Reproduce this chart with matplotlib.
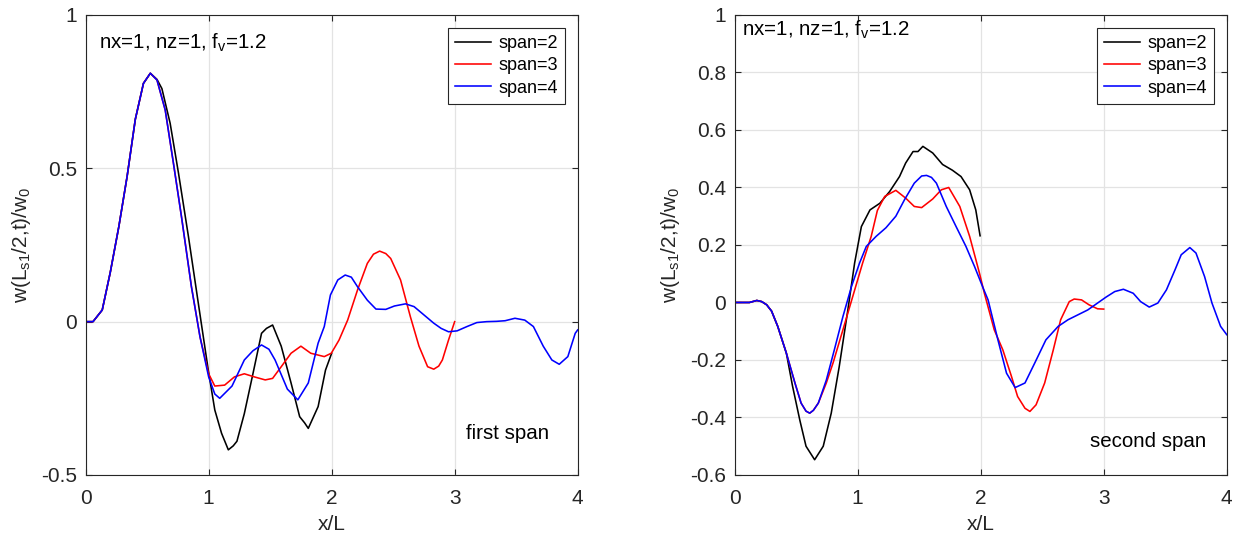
import matplotlib
matplotlib.use('Agg')
from matplotlib import pyplot as plt

plt.rcParams['font.family'] = ['Liberation Sans', 'DejaVu Sans']
plt.rcParams['mathtext.default'] = 'regular'

# ---- first span (left panel) ----
x1_s2 = [0, 0.06, 0.135, 0.20, 0.27, 0.337, 0.404, 0.47, 0.526, 0.58, 0.62, 0.687, 0.755, 0.836, 0.916,
         0.997, 1.05, 1.105, 1.16, 1.20, 1.23, 1.29, 1.36, 1.43, 1.47, 1.52, 1.59, 1.67, 1.74, 1.78,
         1.81, 1.89, 1.95, 2.0]
y1_s2 = [0, 0, 0.038, 0.16, 0.31, 0.473, 0.66, 0.777, 0.81, 0.79, 0.76, 0.647, 0.484, 0.277, 0.06,
         -0.158, -0.288, -0.364, -0.418, -0.405, -0.39, -0.30, -0.17, -0.038, -0.022, -0.011, -0.08, -0.20, -0.31, -0.33,
         -0.348, -0.277, -0.158, -0.103]

x1_s3 = [0, 0.06, 0.135, 0.20, 0.27, 0.337, 0.404, 0.47, 0.526, 0.58, 0.647, 0.714, 0.78, 0.86, 0.93,
         1.0, 1.05, 1.13, 1.21, 1.29, 1.37, 1.46, 1.52, 1.59, 1.67, 1.75, 1.83, 1.94, 1.997, 2.06,
         2.13, 2.21, 2.29, 2.34, 2.39, 2.44, 2.48, 2.56, 2.64, 2.71, 2.78, 2.83, 2.87, 2.90, 2.95, 3.0]
y1_s3 = [0, 0, 0.038, 0.16, 0.31, 0.473, 0.66, 0.777, 0.81, 0.788, 0.69, 0.516, 0.34, 0.114, -0.05,
         -0.17, -0.21, -0.207, -0.18, -0.17, -0.18, -0.19, -0.185, -0.147, -0.103, -0.08, -0.103, -0.114, -0.103, -0.06,
         0.005, 0.103, 0.19, 0.22, 0.23, 0.222, 0.206, 0.136, 0.016, -0.08, -0.147, -0.155, -0.145, -0.125, -0.06, 0.0]

x1_s4 = [0, 0.06, 0.135, 0.20, 0.27, 0.337, 0.404, 0.47, 0.526, 0.58, 0.647, 0.714, 0.78, 0.86, 0.93,
         1.0, 1.05, 1.09, 1.19, 1.29, 1.36, 1.43, 1.49, 1.54, 1.64, 1.725, 1.81, 1.89, 1.94, 1.99,
         2.05, 2.11, 2.16, 2.21, 2.29, 2.36, 2.44, 2.51, 2.60, 2.67, 2.75, 2.83, 2.89, 2.95, 3.02,
         3.10, 3.18, 3.26, 3.34, 3.41, 3.49, 3.57, 3.64, 3.72, 3.79, 3.85, 3.92, 3.98, 4.0]
y1_s4 = [0, 0, 0.038, 0.16, 0.31, 0.473, 0.66, 0.777, 0.81, 0.788, 0.69, 0.516, 0.34, 0.114, -0.05,
         -0.18, -0.236, -0.25, -0.21, -0.125, -0.095, -0.076, -0.09, -0.125, -0.22, -0.255, -0.20, -0.07, -0.016, 0.087,
         0.136, 0.152, 0.145, 0.114, 0.07, 0.041, 0.04, 0.051, 0.058, 0.049, 0.022, -0.005, -0.022, -0.033, -0.03,
         -0.016, -0.003, 0.0, 0.001, 0.003, 0.011, 0.005, -0.016, -0.08, -0.125, -0.139, -0.114, -0.038, -0.027]

# ---- second span (right panel) ----
x2_s2 = [0, 0.12, 0.18, 0.22, 0.26, 0.30, 0.35, 0.42, 0.47, 0.53, 0.58, 0.65, 0.72, 0.785, 0.85,
         0.92, 0.975, 1.03, 1.10, 1.18, 1.26, 1.34, 1.39, 1.45, 1.49, 1.53, 1.61, 1.69, 1.77, 1.84,
         1.91, 1.96, 1.995]
y2_s2 = [0, 0, 0.007, 0.003, -0.008, -0.03, -0.083, -0.176, -0.29, -0.41, -0.50, -0.547, -0.50, -0.385, -0.223,
         -0.026, 0.137, 0.264, 0.322, 0.345, 0.386, 0.438, 0.485, 0.525, 0.525, 0.543, 0.52, 0.48, 0.46, 0.438,
         0.392, 0.322, 0.232]

x2_s3 = [0, 0.12, 0.18, 0.22, 0.26, 0.30, 0.35, 0.42, 0.49, 0.54, 0.58, 0.61, 0.64, 0.68, 0.745,
         0.80, 0.88, 0.96, 1.04, 1.11, 1.16, 1.22, 1.31, 1.39, 1.46, 1.52, 1.61, 1.68, 1.74, 1.83,
         1.91, 1.99, 2.03, 2.11, 2.18, 2.25, 2.30, 2.36, 2.40, 2.45, 2.52, 2.59, 2.65, 2.72, 2.76,
         2.82, 2.88, 2.95, 3.0]
y2_s3 = [0, 0, 0.007, 0.003, -0.008, -0.03, -0.083, -0.176, -0.28, -0.35, -0.378, -0.385, -0.375, -0.35, -0.28,
         -0.21, -0.095, 0.021, 0.137, 0.23, 0.32, 0.369, 0.39, 0.363, 0.334, 0.33, 0.36, 0.392, 0.40, 0.334,
         0.23, 0.102, 0.032, -0.095, -0.165, -0.257, -0.327, -0.368, -0.379, -0.356, -0.28, -0.165, -0.06, 0.003, 0.012,
         0.009, -0.008, -0.022, -0.023]

x2_s4 = [0, 0.12, 0.18, 0.22, 0.26, 0.30, 0.35, 0.42, 0.49, 0.54, 0.58, 0.61, 0.64, 0.68, 0.745,
         0.81, 0.88, 0.95, 1.015, 1.07, 1.15, 1.23, 1.31, 1.38, 1.46, 1.52, 1.56, 1.60, 1.64, 1.72,
         1.80, 1.88, 1.95, 2.02, 2.06, 2.14, 2.21, 2.28, 2.36, 2.44, 2.53, 2.63, 2.71, 2.79, 2.87,
         2.95, 3.02, 3.09, 3.16, 3.24, 3.30, 3.37, 3.44, 3.51, 3.58, 3.63, 3.70, 3.75, 3.82, 3.88,
         3.95, 4.0]
y2_s4 = [0, 0, 0.007, 0.003, -0.008, -0.03, -0.083, -0.176, -0.28, -0.35, -0.378, -0.385, -0.375, -0.35, -0.27,
         -0.165, -0.049, 0.056, 0.137, 0.195, 0.23, 0.26, 0.30, 0.357, 0.415, 0.44, 0.442, 0.435, 0.415, 0.334,
         0.264, 0.195, 0.125, 0.05, 0.009, -0.13, -0.246, -0.296, -0.28, -0.21, -0.13, -0.083, -0.06, -0.043, -0.026,
         -0.002, 0.019, 0.038, 0.046, 0.032, 0.003, -0.016, -0.002, 0.044, 0.114, 0.166, 0.191, 0.172, 0.09, -0.002,
         -0.083, -0.112]

labels = ['span=2', 'span=3', 'span=4']
colors = ['k', '#ff0000', '#0000ff']
xticks = [0, 1, 2, 3, 4]
yticks1 = [-0.5, 0, 0.5, 1]
yticklabels1 = ['-0.5', '0', '0.5', '1']
yticks2 = [-0.6, -0.4, -0.2, 0, 0.2, 0.4, 0.6, 0.8, 1]
yticklabels2 = ['-0.6', '-0.4', '-0.2', '0', '0.2', '0.4', '0.6', '0.8', '1']

fig = plt.figure(figsize=(12.41, 5.37), dpi=100)
ax1 = fig.add_axes([0.069, 0.1155, 0.3965, 0.8566])
ax2 = fig.add_axes([0.592, 0.1155, 0.3965, 0.8566])

panels = [
    (ax1, [(x1_s2, y1_s2), (x1_s3, y1_s3), (x1_s4, y1_s4)], (-0.5, 1), yticks1, yticklabels1,
     'first span', (0.858, 0.091), (0.027, 0.94)),
    (ax2, [(x2_s2, y2_s2), (x2_s3, y2_s3), (x2_s4, y2_s4)], (-0.6, 1), yticks2, yticklabels2,
     'second span', (0.84, 0.072), (0.015, 0.967)),
]

for ax, series, ylim, yt, ytl, tag, tagpos, infopos in panels:
    for (xs, ys), c, lab in zip(series, colors, labels):
        ax.plot(xs, ys, color=c, lw=1.15, label=lab)
    ax.set_xlim(0, 4)
    ax.set_ylim(*ylim)
    ax.set_xticks(xticks)
    ax.set_xticklabels([str(t) for t in xticks])
    ax.set_yticks(yt)
    ax.set_yticklabels(ytl)
    ax.grid(True, color='#e3e3e3', lw=0.9)
    ax.set_axisbelow(True)
    ax.tick_params(direction='in', length=4, width=0.8, colors='#262626', labelsize=15,
                   top=True, right=True)
    ax.tick_params(axis='x', pad=10)
    ax.tick_params(axis='y', pad=6)
    for sp in ax.spines.values():
        sp.set_color('#262626')
        sp.set_linewidth(0.8)
    ax.set_xlabel('x/L', fontsize=15, color='#262626', labelpad=5)
    ax.set_ylabel('w(L$_{s1}$/2,t)/w$_0$', fontsize=15, color='#262626', labelpad=6)
    ax.text(infopos[0], infopos[1], 'nx=1, nz=1, f$_v$=1.2', transform=ax.transAxes,
            fontsize=14.8, va='center', ha='left')
    ax.text(tagpos[0], tagpos[1], tag, transform=ax.transAxes, fontsize=14.8,
            va='center', ha='center')
    leg = ax.legend(loc='upper right', fontsize=13, fancybox=False, framealpha=1,
                    edgecolor='#262626', handlelength=2.0, handletextpad=0.4,
                    labelspacing=0.3, borderpad=0.4, borderaxespad=0.7)
    leg.get_frame().set_linewidth(0.8)

plt.savefig('out.png', dpi=100)
